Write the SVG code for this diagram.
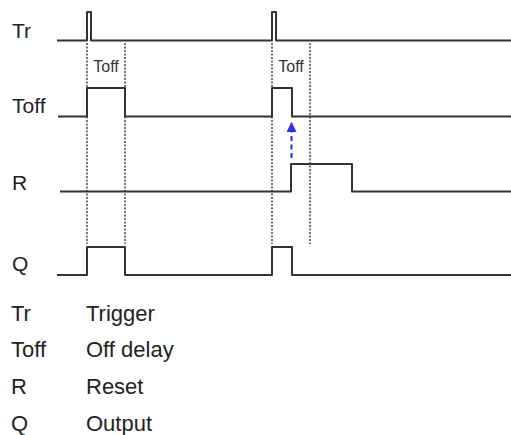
<svg xmlns="http://www.w3.org/2000/svg" width="511" height="435" viewBox="0 0 511 435">
<defs>
<style>
.sig{fill:none;stroke:#333;stroke-width:2;stroke-linejoin:round}
.dot{fill:none;stroke:#444;stroke-width:1.5;stroke-dasharray:2 1.5}
.lbl{font-family:"Liberation Sans",Arial,sans-serif;font-size:21px;fill:#222}
.leg{font-family:"Liberation Sans",Arial,sans-serif;font-size:22px;fill:#222}
.small{font-family:"Liberation Sans",Arial,sans-serif;font-size:16px;fill:#333;text-anchor:middle}
.arr{fill:none;stroke:#2233ee;stroke-width:2;stroke-dasharray:5 3.5}
</style>
<marker id="ah" viewBox="0 0 10 10" refX="9" refY="5" markerWidth="5" markerHeight="5" orient="auto">
<path d="M0,0 L10,5 L0,10 z" fill="#2233ee"/>
</marker>
</defs>
<rect width="511" height="435" fill="#fff"/>
<g id="labels">
<text class="lbl" x="12" y="38">Tr</text>
<text class="lbl" x="12" y="113">Toff</text>
<text class="lbl" x="12" y="190">R</text>
<text class="lbl" x="12" y="271">Q</text>
</g>
<g id="guides">
<line class="dot" x1="87" y1="43" x2="87" y2="244"/>
<line class="dot" x1="125" y1="43" x2="125" y2="244"/>
<line class="dot" x1="272" y1="43" x2="272" y2="244"/>
<line class="dot" x1="310" y1="43" x2="310" y2="244"/>
<text class="small" x="106" y="72">Toff</text>
<text class="small" x="291" y="72">Toff</text>
</g>
<g id="sig-Tr">
<path class="sig" d="M57,40.5 H87 V12 H91 V40.5 H272 V12 H276 V40.5 H511"/>
</g>
<g id="sig-Toff">
<path class="sig" d="M58,116.5 H87 V88 H125 V116.5 H272 V88 H292 V116.5 H511"/>
</g>
<g id="sig-R">
<path class="sig" d="M60,191.5 H291 V164 H352 V191.5 H511"/>
</g>
<g id="sig-Q">
<path class="sig" d="M57,275 H87 V247 H125 V275 H272 V247 H292 V275 H511"/>
</g>
<g id="connectors">
<line class="arr" x1="291.5" y1="158" x2="291.5" y2="123" marker-end="url(#ah)"/>
</g>
<g id="legend">
<text class="leg" x="11" y="321">Tr</text>
<text class="leg" x="86" y="321">Trigger</text>
<text class="leg" x="11" y="357">Toff</text>
<text class="leg" x="86" y="357">Off delay</text>
<text class="leg" x="11" y="394">R</text>
<text class="leg" x="86" y="394">Reset</text>
<text class="leg" x="11" y="431">Q</text>
<text class="leg" x="86" y="431">Output</text>
</g>
</svg>
